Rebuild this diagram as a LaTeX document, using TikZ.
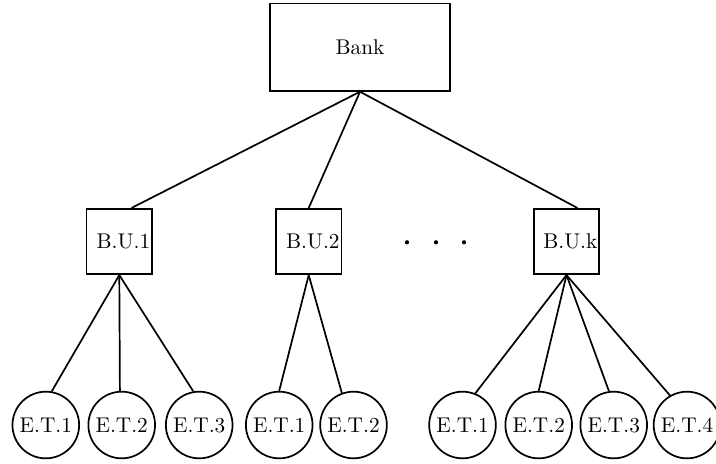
\documentclass[tikz,border=0pt]{standalone}
\usepackage{tikz}
\usetikzlibrary{arrows.meta}
\tikzset{>=stealth}
\tikzset{
  bankbox/.style={draw,thick,minimum width=84.7pt,minimum height=41pt,inner sep=0pt},
  unitbox/.style={draw,thick,minimum size=30.7pt,inner xsep=0.85pt,inner ysep=0pt,
    text width=29pt,align=right},
  teller/.style={draw,thick,circle,minimum size=31.3pt,inner sep=0pt}
}

\begin{document}
\begin{tikzpicture}[x=0.4695pt,y=-0.4695pt]
    \useasboundingbox (0,0) rectangle (716,463);
    \node[bankbox] (bank) at (360,47.2) {Bank};
    \node[unitbox] (bu1) at (119.3,241.5) {B.U.1};
    \node[unitbox] (bu2) at (308.7,241.5) {B.U.2};
    \node[unitbox] (buk) at (566.5,241.5) {B.U.k};
    \foreach \x in {407,436,464}
        \fill (\x,242.3) circle (1pt);
    % tellers of each unit
    \node[teller] (et11) at (45.8,425) {E.T.1};
    \node[teller] (et12) at (121.7,425) {E.T.2};
    \node[teller] (et13) at (199.2,425) {E.T.3};
    \node[teller] (et21) at (279.2,425) {E.T.1};
    \node[teller] (et22) at (353.5,425) {E.T.2};
    \node[teller] (etk1) at (462.5,425) {E.T.1};
    \node[teller] (etk2) at (538.7,425) {E.T.2};
    \node[teller] (etk3) at (613.7,425) {E.T.3};
    \node[teller] (etk4) at (687,425) {E.T.4};
    \draw[thick] (bank.south) -- (bu1.70);
    \draw[thick] (bank.south) -- (bu2.north);
    \draw[thick] (bank.south) -- (buk.72);
    \foreach \t/\a in {11/80,12/93,13/100}
        \draw[thick] (bu1.south) -- (et\t.\a);
    \foreach \t/\a in {21/90,22/110}
        \draw[thick] (bu2.south) -- (et\t.\a);
    \foreach \t/\a in {k1/68,k2/90,k3/98,k4/120}
        \draw[thick] (buk.south) -- (et\t.\a);
\end{tikzpicture}
\end{document}
